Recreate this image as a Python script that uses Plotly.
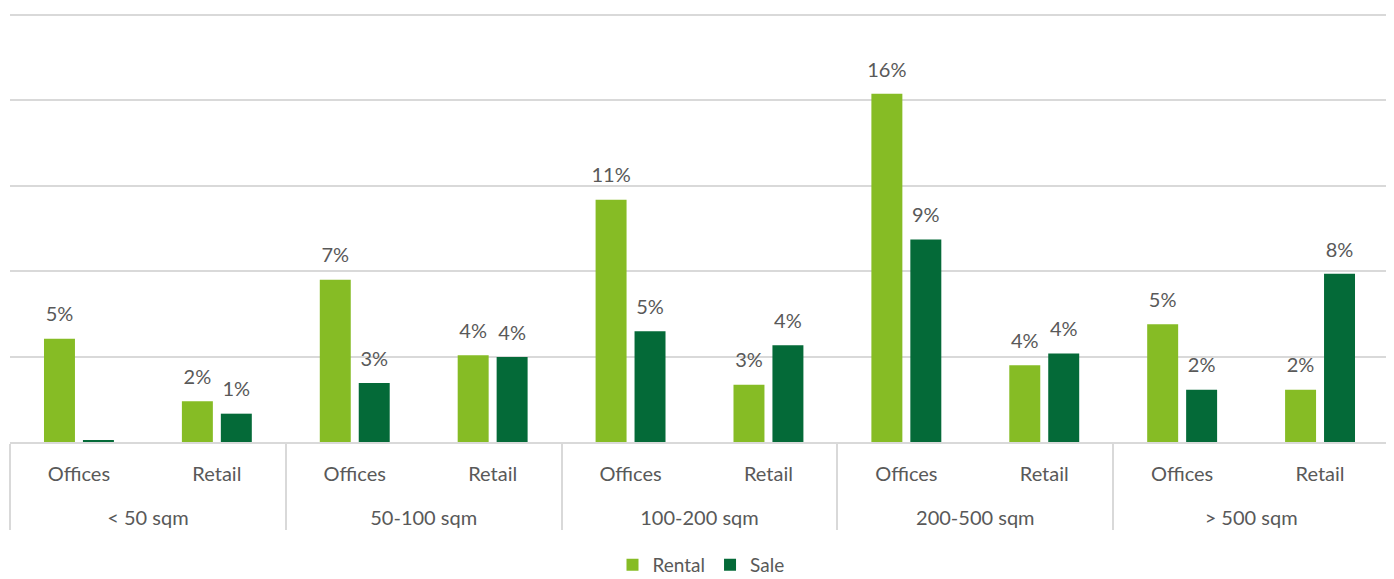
import plotly.graph_objects as go

sizes = ["< 50 sqm", "50-100 sqm", "100-200 sqm", "200-500 sqm", "> 500 sqm"]
types = ["Offices", "Retail"]
rental = [4.74, 1.87, 7.45, 3.98, 11.12, 2.63, 15.98, 3.52, 5.40, 2.40]
sale = [0.06, 1.30, 2.71, 3.90, 5.08, 4.44, 9.30, 4.06, 2.40, 7.72]

x_outer = [s for s in sizes for _ in types]
x_inner = [t + "<br><span style='font-size:40px'> </span>" for _ in sizes for t in types]
x = [x_outer, x_inner]

RENTAL_C = "#86BC25"
SALE_C = "#046A38"
TXT = "#595959"
GRID = "#d9d9d9"
FONT = "Lato, sans-serif"

# page body has an 8px default margin; figure size compensates for it
W, H = 1386, 571


def labels(vals):
    return [f"{v:.0f}%" if v >= 0.5 else "" for v in vals]


fig = go.Figure()
for name, vals, col in [("Rental", rental, RENTAL_C), ("Sale", sale, SALE_C)]:
    fig.add_trace(go.Bar(name=name, x=x, y=vals, marker=dict(color=col, line=dict(width=0)),
                         offsetgroup=name, hoverinfo="skip"))
for name, vals in [("Rental", rental), ("Sale", sale)]:
    fig.add_trace(go.Scatter(x=x, y=vals, mode="markers+text", text=labels(vals),
                             textposition="top center", offsetgroup=name,
                             marker=dict(size=18, opacity=0),
                             textfont=dict(family=FONT, size=20, color=TXT),
                             showlegend=False, hoverinfo="skip", cliponaxis=False))

ymax = 19.6
fig.update_layout(
    width=W, height=H,
    margin=dict(l=2, r=5, t=4, b=137),
    paper_bgcolor="white", plot_bgcolor="white",
    barmode="group", bargap=0.435, bargroupgap=0.205,
    scattermode="group",
    font=dict(family=FONT, size=20, color=TXT),
    showlegend=True,
    legend=dict(orientation="h", x=0.5, xanchor="center", xref="container",
                y=14 / H, yanchor="middle", yref="container",
                font=dict(family=FONT, size=19, color=TXT), itemwidth=30,
                traceorder="normal"),
    xaxis=dict(type="multicategory", range=[-0.5, len(x_inner) - 0.5],
               showline=True, linecolor=GRID, linewidth=1.5,
               showdividers=True, dividercolor=GRID, dividerwidth=1.5, ticks="",
               automargin=False, ticklabelstandoff=13,
               tickfont=dict(family=FONT, size=20, color=TXT), showgrid=False),
    yaxis=dict(range=[0, ymax * 1.007], tick0=0, dtick=ymax / 5, showticklabels=False,
               showgrid=True, gridcolor=GRID, gridwidth=1.5, zeroline=False,
               automargin=False, fixedrange=True),
)

fig.write_html("out.html")
